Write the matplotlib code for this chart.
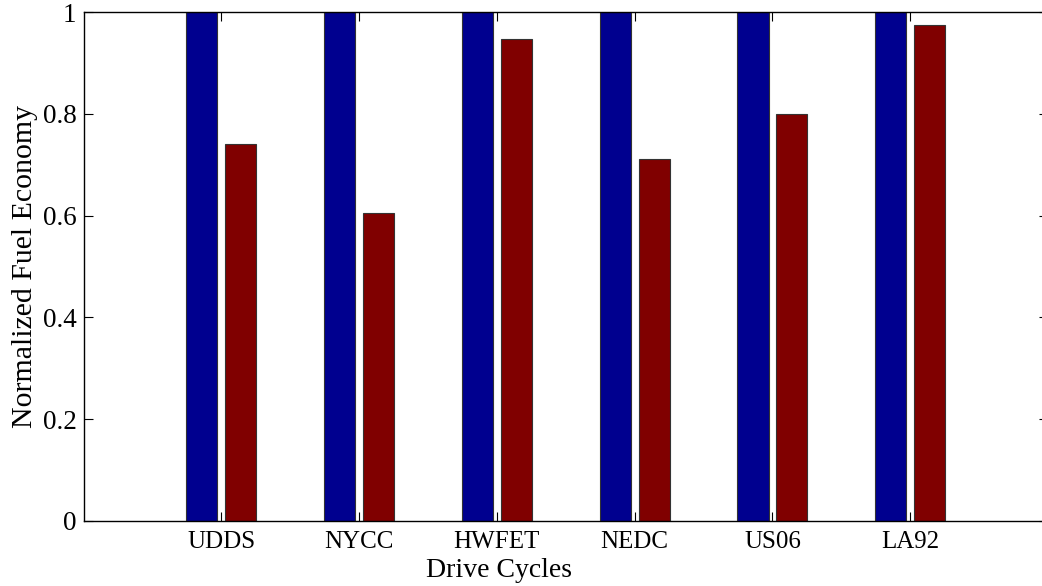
import numpy as np
import matplotlib
matplotlib.use("Agg")
import matplotlib.pyplot as plt

plt.rcParams['font.family'] = ['Liberation Serif', 'DejaVu Serif']

# normalized fuel economy per drive cycle
cycles = ['UDDS', 'NYCC', 'HWFET', 'NEDC', 'US06', 'LA92']
baseline = [1.0, 1.0, 1.0, 1.0, 1.0, 1.0]
proposed = [0.740, 0.606, 0.947, 0.712, 0.800, 0.975]
y_ticks = [0, 0.2, 0.4, 0.6, 0.8, 1]
y_ticklabels = ['0', '0.2', '0.4', '0.6', '0.8', '1']

W, H = 1042, 586
fig = plt.figure(figsize=(W / 100, H / 100), dpi=100)
ax = fig.add_axes([83.5 / W, (H - 521) / H, (1048 - 83.5) / W, (521 - 12) / H])

x = np.arange(1, len(cycles) + 1)
bw = 0.225
off = 0.141
ax.bar(x - off, baseline, bw, color='#00008f', edgecolor='#333333', lw=0.8, zorder=2)
ax.bar(x + off, proposed, bw, color='#800000', edgecolor='#333333', lw=0.8, zorder=2)

ax.set_xlim(0, 7)
ax.set_ylim(0, 1)
ax.set_xticks(x)
ax.set_xticklabels(cycles)
ax.set_yticks(y_ticks)
ax.set_yticklabels(y_ticklabels)

ax.tick_params(direction='in', length=6.5, width=0.8,
               top=True, right=True)
ax.tick_params(axis='x', labelsize=18, pad=7)
ax.tick_params(axis='y', labelsize=19.5, pad=5)
for sp in ax.spines.values():
    sp.set_linewidth(1.0)

ax.set_xlabel('Drive Cycles', fontsize=20)
ax.xaxis.set_label_coords(0.431, -0.072)
ax.set_ylabel('Normalized Fuel Economy', fontsize=21.5)
ax.yaxis.set_label_coords(-0.047, 0.5)

plt.savefig('out.png', dpi=100)
